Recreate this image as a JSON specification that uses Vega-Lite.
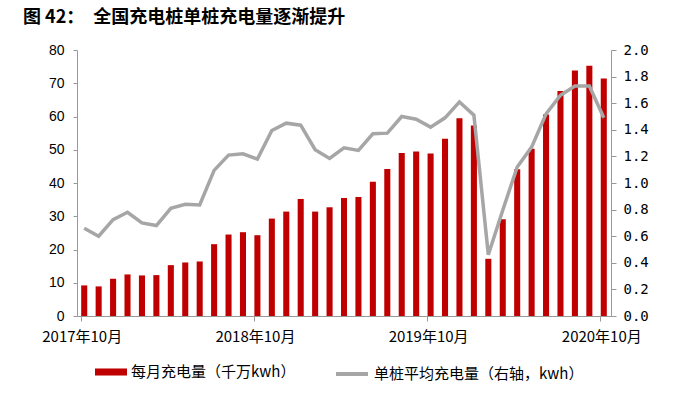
{
  "$schema": "https://vega.github.io/schema/vega-lite/v6.json",
  "autosize": {"type": "none"},
  "width": 534,
  "height": 266,
  "padding": {"left": 77, "top": 50, "right": 89, "bottom": 84},
  "background": "white",
  "title": {
    "text": "图 42：　全国充电桩单桩充电量逐渐提升",
    "anchor": "start",
    "frame": "group",
    "dx": -54,
    "offset": 16,
    "fontSize": 18,
    "fontWeight": "bold",
    "font": "Noto Sans CJK SC",
    "color": "#000000"
  },
  "config": {
    "view": {"stroke": null},
    "axis": {"grid": false, "domainColor": "#999999", "tickColor": "#999999", "labelColor": "#000000"}
  },
  "data": {
    "values": [
      {"month": "2017-10", "charge": 9.2, "avg": 0.66},
      {"month": "2017-11", "charge": 8.9, "avg": 0.60},
      {"month": "2017-12", "charge": 11.2, "avg": 0.725},
      {"month": "2018-01", "charge": 12.5, "avg": 0.78},
      {"month": "2018-02", "charge": 12.2, "avg": 0.70},
      {"month": "2018-03", "charge": 12.3, "avg": 0.68},
      {"month": "2018-04", "charge": 15.3, "avg": 0.81},
      {"month": "2018-05", "charge": 16.1, "avg": 0.84},
      {"month": "2018-06", "charge": 16.4, "avg": 0.835},
      {"month": "2018-07", "charge": 21.6, "avg": 1.095},
      {"month": "2018-08", "charge": 24.5, "avg": 1.21},
      {"month": "2018-09", "charge": 25.2, "avg": 1.22},
      {"month": "2018-10", "charge": 24.3, "avg": 1.18},
      {"month": "2018-11", "charge": 29.3, "avg": 1.395},
      {"month": "2018-12", "charge": 31.4, "avg": 1.45},
      {"month": "2019-01", "charge": 35.2, "avg": 1.435},
      {"month": "2019-02", "charge": 31.4, "avg": 1.25},
      {"month": "2019-03", "charge": 32.7, "avg": 1.185},
      {"month": "2019-04", "charge": 35.5, "avg": 1.265},
      {"month": "2019-05", "charge": 35.8, "avg": 1.245},
      {"month": "2019-06", "charge": 40.4, "avg": 1.37},
      {"month": "2019-07", "charge": 44.2, "avg": 1.375},
      {"month": "2019-08", "charge": 49.0, "avg": 1.50},
      {"month": "2019-09", "charge": 49.5, "avg": 1.48},
      {"month": "2019-10", "charge": 48.9, "avg": 1.42},
      {"month": "2019-11", "charge": 53.3, "avg": 1.49},
      {"month": "2019-12", "charge": 59.5, "avg": 1.61},
      {"month": "2020-01", "charge": 57.3, "avg": 1.51},
      {"month": "2020-02", "charge": 17.2, "avg": 0.46},
      {"month": "2020-03", "charge": 29.1, "avg": 0.795},
      {"month": "2020-04", "charge": 44.1, "avg": 1.12},
      {"month": "2020-05", "charge": 50.3, "avg": 1.27},
      {"month": "2020-06", "charge": 60.6, "avg": 1.52},
      {"month": "2020-07", "charge": 67.7, "avg": 1.66},
      {"month": "2020-08", "charge": 73.8, "avg": 1.73},
      {"month": "2020-09", "charge": 75.3, "avg": 1.73},
      {"month": "2020-10", "charge": 71.4, "avg": 1.49}
    ]
  },
  "encoding": {
    "x": {
      "field": "month",
      "type": "ordinal",
      "scale": {"paddingInner": 0.58, "paddingOuter": 0.29},
      "axis": {
        "title": null,
        "values": ["2017-10", "2018-10", "2019-10", "2020-10"],
        "labelExpr": "replace(datum.value, '-', '年') + '月'",
        "labelAngle": 0,
        "bandPosition": 0,
        "labelOffset": -2,
        "tickSize": 5,
        "labelPadding": 8,
        "labelFont": "Noto Sans CJK SC",
        "labelFontSize": 15
      }
    }
  },
  "layer": [
    {
      "mark": {"type": "bar"},
      "encoding": {
        "y": {
          "field": "charge",
          "type": "quantitative",
          "scale": {"domain": [0, 80]},
          "axis": {
            "title": null,
            "values": [0, 10, 20, 30, 40, 50, 60, 70, 80],
            "tickSize": 4,
            "labelPadding": 9,
            "labelFont": "Liberation Sans",
            "labelFontSize": 14
          }
        },
        "color": {
          "datum": "每月充电量（千万kwh）",
          "scale": {"range": ["#C00000"]},
          "legend": {
            "title": null,
            "orient": "none",
            "legendX": 18,
            "legendY": 306,
            "symbolType": "M-1,-0.22H1V0.22H-1Z",
            "symbolSize": 1024,
            "symbolStrokeWidth": 0,
            "labelFont": "Noto Sans CJK SC",
            "labelFontSize": 15,
            "labelLimit": 400,
            "labelColor": "#000000"
          }
        }
      }
    },
    {
      "mark": {"type": "line", "strokeWidth": 3.5, "interpolate": "linear"},
      "encoding": {
        "y": {
          "field": "avg",
          "type": "quantitative",
          "scale": {"domain": [0, 2]},
          "axis": {
            "title": null,
            "orient": "right",
            "values": [0, 0.2, 0.4, 0.6, 0.8, 1.0, 1.2, 1.4, 1.6, 1.8, 2.0],
            "format": ".1f",
            "tickSize": 5,
            "labelPadding": 7,
            "labelFont": "DejaVu Sans Mono",
            "labelFontSize": 14
          }
        },
        "stroke": {
          "datum": "单桩平均充电量（右轴，kwh）",
          "scale": {"range": ["#A6A6A6"]},
          "legend": {
            "title": null,
            "orient": "none",
            "legendX": 257,
            "legendY": 306,
            "symbolType": "M-1,0H1",
            "symbolSize": 1024,
            "symbolStrokeWidth": 4,
            "labelFont": "Noto Sans CJK SC",
            "labelFontSize": 15,
            "labelLimit": 400,
            "labelColor": "#000000"
          }
        }
      }
    }
  ],
  "resolve": {"scale": {"y": "independent"}}
}
